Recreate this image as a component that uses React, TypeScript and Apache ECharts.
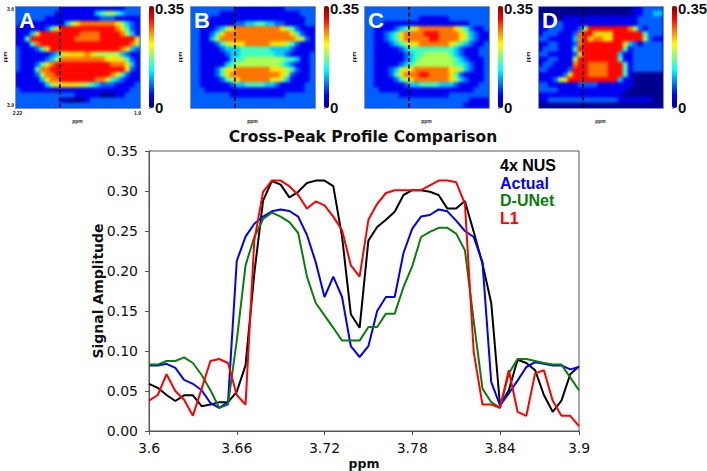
import React, { useEffect, useRef } from "react";
import * as echarts from "echarts";

const xTickLabels: Record<number, string> = { 0: "3.6", 10: "3.66", 20: "3.72", 30: "3.78", 40: "3.84", 49: "3.9" };
const profileIndex = Array.from({ length: 50 }, (_, i) => String(i));

const nus4x = [0.059,0.054,0.045,0.0375,0.0446,0.0446,0.031,0.033,0.036,0.036,0.049,0.082,0.197,0.288,0.3125,0.308,0.292,0.299,0.31,0.313,0.313,0.306,0.243,0.146,0.129,0.238,0.255,0.264,0.274,0.295,0.301,0.301,0.299,0.295,0.278,0.278,0.2875,0.249,0.209,0.16,0.032,0.051,0.089,0.085,0.076,0.045,0.024,0.038,0.071,0.081];
const actual = [0.082,0.082,0.084,0.079,0.064,0.059,0.051,0.035,0.029,0.036,0.2125,0.243,0.259,0.268,0.2746,0.277,0.275,0.268,0.245,0.211,0.1675,0.193,0.1675,0.106,0.0925,0.106,0.15,0.1675,0.1675,0.2225,0.253,0.268,0.27,0.277,0.2746,0.263,0.25,0.2425,0.211,0.061,0.032,0.047,0.063,0.08,0.086,0.084,0.082,0.082,0.077,0.08];
const dUnet = [0.083,0.083,0.0875,0.0875,0.092,0.085,0.07,0.051,0.029,0.033,0.113,0.207,0.2425,0.265,0.273,0.268,0.261,0.2475,0.193,0.16,0.1446,0.129,0.113,0.113,0.113,0.13,0.13,0.1467,0.1467,0.18,0.206,0.2425,0.249,0.254,0.254,0.2467,0.226,0.138,0.053,0.036,0.029,0.072,0.09,0.09,0.0875,0.085,0.083,0.083,0.067,0.051];
const l1 = [0.038,0.045,0.071,0.05,0.039,0.019,0.053,0.0875,0.09,0.085,0.045,0.033,0.238,0.299,0.313,0.313,0.306,0.295,0.278,0.287,0.282,0.268,0.251,0.207,0.193,0.264,0.284,0.2975,0.301,0.301,0.301,0.301,0.307,0.313,0.313,0.311,0.284,0.099,0.033,0.033,0.029,0.076,0.024,0.019,0.072,0.076,0.038,0.019,0.019,0.006];

const profiles = [
  { name: "4x NUS", values: nus4x, color: "#000000" },
  { name: "Actual", values: actual, color: "#0000ff" },
  { name: "D-UNet", values: dUnet, color: "#0a7d0a" },
  { name: "L1", values: l1, color: "#ff0000" },
];

// Each character is a colour level 0-9 of the 0-0.35 scale.
const panelA = [
  "2222222221111111111111222",
  "2222222211111111345543222",
  "2222221111111111122211111",
  "2111111111356777777765321",
  "1111112468888888888876421",
  "1113688888888777788887531",
  "1148888888887777788888886",
  "1114788888888888888888875",
  "2111246888888888888887632",
  "2111111235666676555553211",
  "2111112357777777776666421",
  "2111246788888888888777631",
  "2111477888888888888888621",
  "1111257788888888888764211",
  "1111136778888888776432111",
  "1111113566666554322211112",
  "2111111111111111111111122",
  "2222222222221111100011222",
  "2222222221000012222222222",
  "2222222222222222222222222",
];
const panelB = [
  "2222222221111111111222222",
  "2222221111111111111111222",
  "2222111111111111111111122",
  "2221111112233443322111122",
  "2211123567777777776542111",
  "2211246777777777777764211",
  "2211357777777777777776521",
  "2211124566677777666542111",
  "2211112333444444333321111",
  "2211111233444444433211112",
  "2211111134455555555443112",
  "2211111345555555554321112",
  "2211124667777777666542112",
  "2211124677777777776521112",
  "2211112456777777665311112",
  "2211111123344443321111122",
  "2221111111111111111111122",
  "2222222211111111111222222",
  "2222222222222222222222222",
  "2222222222222222222222222",
];
const panelC = [
  "2222222222222222222222222",
  "2222222222222222222222222",
  "2222222222211111122222222",
  "2222111111111111111112222",
  "2211112345677777776542112",
  "2211234677778887777653211",
  "2211234677777887777653211",
  "2211123456677777765432112",
  "2211111234444444443211122",
  "2211111123445555543211122",
  "2211111123455555554321112",
  "2211111234555555554432112",
  "2211123566777777766532112",
  "2211124677788777764211112",
  "2211112456777777765321112",
  "2211111123344443332111122",
  "2221111111111111111111222",
  "2222222111111111122222222",
  "2222222222222222222221111",
  "2222222222222222222211111",
];
const panelD = [
  "0000000000000000000112222",
  "0000000000000000000112233",
  "0000011111111111111122222",
  "1112211111111111111122222",
  "1122211125888888887521222",
  "1222111278866668888884222",
  "2211111378677668888885211",
  "1122111278888888863212222",
  "1222111488888888841222222",
  "2211111268888888311222222",
  "1122111588888888411222222",
  "1221111788777788841222222",
  "2211112888777788841222222",
  "1111126888777788841000000",
  "1112568888888888311000000",
  "2211111122221111111000000",
  "2222111111111111110000000",
  "1111111111111111100000000",
  "1122222222222222111111100",
  "0000000000000000000000000",
];
const panelGrids = [panelA, panelB, panelC, panelD];
const panelLetters = ["A", "B", "C", "D"];
const panelEdgeColors = ["#0058ff", "#0058ff", "#0058ff", "#0010c8"];
const dashPpm = [2.105, 2.105, 2.105, 2.105];
const panelXLabels: Record<number, string> = { 0: "2.22", 24: "1.9" };
const panelYLabels: Record<number, string> = { 0: "3.6", 19: "3.9" };
const colorbarMax = 0.35;
const colorbarTopLabel = "0.35";
const colorbarBottomLabel = "0";
const levelTop = 9.2;
const jet = ["#00008f", "#0000ff", "#0080ff", "#00ffff", "#80ff80", "#ffff00", "#ff8000", "#ff0000", "#800000"];

const PANEL_LEFT = [15, 190, 364, 538];
const PANEL_TOP = 6;
const PANEL_W = 125;
const PANEL_H = 102;

function heatOption(rows: string[]) {
  const cells: number[][] = [];
  rows.forEach((row, r) => row.split("").forEach((ch, c) => cells.push([c, r, (Number(ch) / levelTop) * colorbarMax])));
  return {
    animation: false,
    grid: { left: 0, top: 0, right: 0, bottom: 0, outerBoundsMode: "none" },
    xAxis: { type: "category", show: false, data: rows[0].split("").map((_, i) => String(i)) },
    yAxis: { type: "category", show: false, inverse: true, data: rows.map((_, i) => String(i)) },
    visualMap: { show: false, type: "continuous", min: 0, max: colorbarMax, inRange: { color: jet } },
    series: [{ type: "heatmap", data: cells, silent: true }],
  };
}

function buildOption() {
  const grid: any[] = [];
  const xAxis: any[] = [];
  const yAxis: any[] = [];
  const series: any[] = [];
  const visualMap: any[] = [];
  const graphic: any[] = [];
  const small = { fontFamily: "Liberation Sans", fontWeight: "bold", fontSize: 5, color: "#222" };
  const add = (g: any, x: any, y: any) => {
    grid.push({ ...g, outerBoundsMode: "none" });
    const gridIndex = grid.length - 1;
    xAxis.push({ nameMoveOverlap: false, ...x, gridIndex });
    yAxis.push({ nameMoveOverlap: false, ...y, gridIndex });
    return xAxis.length - 1;
  };
  panelGrids.forEach((rows, p) => {
    const left = PANEL_LEFT[p];
    const isA = p === 0;
    const g = { left, top: PANEL_TOP, width: PANEL_W, height: PANEL_H };
    const ax = add(
      g,
      {
        type: "category",
        data: rows[0].split("").map((_, i) => String(i)),
        name: "ppm",
        nameLocation: "middle",
        nameGap: 10,
        nameTextStyle: small,
        axisLine: { show: false },
        axisTick: { show: false },
        axisLabel: { show: isA, interval: 0, margin: 2, ...small, formatter: (_: string, i: number) => panelXLabels[i] ?? "" },
      },
      {
        type: "category",
        inverse: true,
        data: rows.map((_, i) => String(i)),
        name: "ppm",
        nameLocation: "middle",
        nameGap: 8,
        nameRotate: 90,
        nameTextStyle: small,
        axisLine: { show: false },
        axisTick: { show: false },
        axisLabel: { show: isA, interval: 0, margin: 1, ...small, formatter: (_: string, i: number) => panelYLabels[i] ?? "" },
      }
    );
    series.push({ type: "line", xAxisIndex: ax, yAxisIndex: ax, data: [] });
    const ov = add(
      g,
      { type: "value", min: 1.9, max: 2.22, inverse: true, show: false },
      { type: "value", min: 3.6, max: 3.9, inverse: true, show: false }
    );
    series.push({
      type: "line",
      xAxisIndex: ov,
      yAxisIndex: ov,
      symbol: "none",
      silent: true,
      z: 5,
      lineStyle: { color: "#000", width: 1.5, type: [4, 2.5] },
      data: [[dashPpm[p], 3.6], [dashPpm[p], 3.9]],
    });
    const cb = add(
      { left: left + PANEL_W + 9, top: PANEL_TOP, width: 5, height: PANEL_H },
      { type: "value", show: false, min: 0, max: 1 },
      {
        type: "value",
        position: "right",
        min: 0,
        max: colorbarMax,
        interval: 0.05,
        splitLine: { show: false },
        axisLine: { show: false },
        axisTick: { show: true, length: 1.5, lineStyle: { color: "#333", width: 0.6 } },
        axisLabel: { show: false },
      }
    );
    visualMap.push({
      type: "continuous",
      seriesIndex: series.length,
      min: 0,
      max: colorbarMax,
      left: left + PANEL_W + 9,
      top: PANEL_TOP,
      itemWidth: 5,
      itemHeight: PANEL_H,
      padding: 0,
      text: ["", ""],
      showLabel: false,
      calculable: false,
      inRange: { color: jet },
    });
    series.push({ type: "line", xAxisIndex: cb, yAxisIndex: cb, data: [] });
    [
      { text: colorbarTopLabel, y: 8.5 },
      { text: colorbarBottomLabel, y: 107 },
    ].forEach((t) => {
      graphic.push({
        type: "text",
        z: 21,
        x: left + PANEL_W + 15,
        y: t.y,
        style: { text: t.text, fill: "#111", font: "bold 15px 'Liberation Sans'", textAlign: "left", textVerticalAlign: "middle" },
        silent: true,
      });
    });
    graphic.push({
      type: "rect",
      z: 20,
      shape: { x: left + 0.5, y: PANEL_TOP + 0.5, width: PANEL_W, height: PANEL_H },
      style: { fill: "none", stroke: "#8b93a3", lineWidth: 1 },
      silent: true,
    });
    graphic.push({
      type: "text",
      z: 21,
      x: left + 12,
      y: 20,
      style: {
        text: panelLetters[p],
        fill: "#fff",
        font: "bold 22px 'Liberation Sans'",
        textAlign: "center",
        textVerticalAlign: "middle",
      },
      silent: true,
    });
  });

  const tickFont = { fontFamily: "DejaVu Sans", fontSize: 14, color: "#111" };
  const main = add(
    { left: 149, top: 151, width: 430, height: 280, show: true, borderColor: "#555", borderWidth: 1, backgroundColor: "#fff" },
    {
      type: "category",
      boundaryGap: false,
      data: profileIndex,
      name: "ppm",
      nameLocation: "middle",
      nameGap: 26,
      nameTextStyle: { fontFamily: "DejaVu Sans", fontWeight: "bold", fontSize: 12.5, color: "#111" },
      axisLine: { lineStyle: { color: "#555", width: 1 } },
      axisTick: { length: 4, lineStyle: { color: "#555" }, interval: (i: number) => xTickLabels[i] !== undefined },
      axisLabel: {
        ...tickFont,
        margin: 10,
        interval: (i: number) => xTickLabels[i] !== undefined,
        formatter: (_: string, i: number) => xTickLabels[i] ?? "",
      },
    },
    {
      type: "value",
      min: 0,
      max: 0.35,
      interval: 0.05,
      name: "Signal Amplitude",
      nameLocation: "middle",
      nameGap: 44,
      nameTextStyle: { fontFamily: "DejaVu Sans", fontWeight: "bold", fontSize: 14, color: "#111" },
      splitLine: { show: false },
      axisLine: { show: true, lineStyle: { color: "#555", width: 1 } },
      axisTick: { show: true, length: 4, lineStyle: { color: "#555" } },
      axisLabel: { ...tickFont, margin: 11, formatter: (v: number) => v.toFixed(2) },
    }
  );
  profiles.forEach((s) => {
    series.push({
      type: "line",
      name: s.name,
      xAxisIndex: main,
      yAxisIndex: main,
      data: s.values,
      symbol: "none",
      color: s.color,
      lineStyle: { color: s.color, width: 2 },
    });
  });

  return {
    animation: false,
    title: {
      text: "Cross-Peak Profile Comparison",
      left: 363,
      textAlign: "center",
      top: 129,
      padding: 0,
      textStyle: { fontFamily: "DejaVu Sans", fontWeight: "bold", fontSize: 15.5, color: "#111" },
    },
    legend: {
      orient: "vertical",
      left: 495,
      top: 156,
      padding: 0,
      itemGap: 0,
      itemWidth: 0,
      itemHeight: 19,
      selectedMode: false,
      data: profiles.map((s) => ({
        name: s.name,
        icon: "none",
        textStyle: { color: s.color, fontFamily: "Liberation Sans", fontWeight: "bold", fontSize: 16 },
      })),
    },
    grid,
    xAxis,
    yAxis,
    series,
    visualMap,
    graphic,
  };
}

export default function App() {
  const ref = useRef<HTMLDivElement>(null);
  const heatRefs = useRef<(HTMLDivElement | null)[]>([]);
  useEffect(() => {
    const heatCharts = panelGrids.map((rows, p) => {
      const c = echarts.init(heatRefs.current[p]!, undefined, { renderer: "svg" });
      c.setOption(heatOption(rows) as any);
      return c;
    });
    const chart = echarts.init(ref.current!, undefined, { renderer: "svg" });
    chart.setOption(buildOption() as any);
    return () => {
      chart.dispose();
      heatCharts.forEach((c) => c.dispose());
    };
  }, []);
  return (
    <div style={{ position: "fixed", left: 0, top: 0, width: 707, height: 471, background: "#fff" }}>
      {panelGrids.map((_, p) => (
        <div
          key={p}
          style={{
            position: "absolute",
            left: PANEL_LEFT[p],
            top: PANEL_TOP,
            width: PANEL_W,
            height: PANEL_H,
            overflow: "hidden",
            background: panelEdgeColors[p],
          }}
        >
          <div
            ref={(el) => {
              heatRefs.current[p] = el;
            }}
            style={{ width: PANEL_W, height: PANEL_H, filter: "blur(1.7px)" }}
          />
        </div>
      ))}
      <div ref={ref} style={{ position: "absolute", left: 0, top: 0, width: 707, height: 471 }} />
    </div>
  );
}
